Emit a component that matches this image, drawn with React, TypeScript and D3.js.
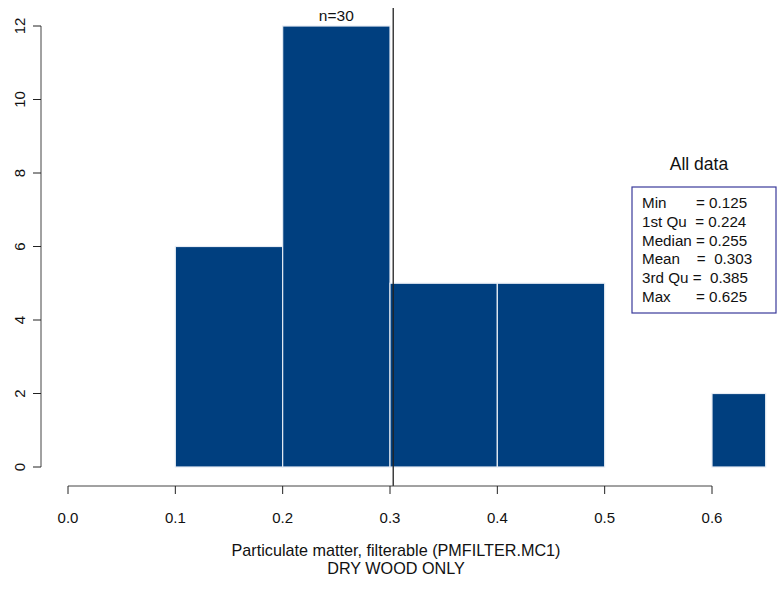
import React from "react";
import * as d3 from "d3";

const binStarts = [0.1, 0.2, 0.3, 0.4, 0.5, 0.6];
const binEnds = [0.2, 0.3, 0.4, 0.5, 0.6, 0.65];
const counts = [6, 12, 5, 5, 0, 2];
const xTicks = [0.0, 0.1, 0.2, 0.3, 0.4, 0.5, 0.6];
const yTicks = [0, 2, 4, 6, 8, 10, 12];
const statLines = [
  "Min       = 0.125",
  "1st Qu  = 0.224",
  "Median = 0.255",
  "Mean    =  0.303",
  "3rd Qu =  0.385",
  "Max      = 0.625",
];
const meanValue = 0.303;
const nLabel = "n=30";
const xTitle = "Particulate matter, filterable (PMFILTER.MC1)";
const subTitle = "DRY WOOD ONLY";
const boxTitle = "All data";

export default function App() {
  const W = 783, H = 593;
  const x = d3.scaleLinear().domain([0, 0.6]).range([68, 712]);
  const y = d3.scaleLinear().domain([0, 12]).range([467, 26]);
  const font = "'Liberation Sans', Arial, sans-serif";
  const barColor = "#003f7f";
  const statX = 642;
  return (
    <svg width={W} height={H} style={{ position: "absolute", left: 0, top: 0 }} fontFamily={font}>
      <rect width={W} height={H} fill="#fff" />
      {counts.map((c, i) => (
        <rect
          key={i}
          x={x(binStarts[i])}
          y={y(c)}
          width={x(binEnds[i]) - x(binStarts[i])}
          height={y(0) - y(c)}
          fill={barColor}
          stroke="#e6ecf4"
          strokeWidth={1.2}
        />
      ))}
      <line x1={x(meanValue)} x2={x(meanValue)} y1={8} y2={486} stroke="#222" strokeWidth={1.3} />
      <line x1={41} x2={41} y1={y(0)} y2={y(12)} stroke="#444" />
      {yTicks.map((t) => (
        <g key={t}>
          <line x1={33} x2={41} y1={y(t)} y2={y(t)} stroke="#222" />
          <text
            transform={`translate(25,${y(t)}) rotate(-90)`}
            textAnchor="middle"
            fontSize={15}
            fill="#111"
          >
            {t}
          </text>
        </g>
      ))}
      <line x1={x(0)} x2={x(0.6)} y1={486} y2={486} stroke="#444" />
      {xTicks.map((t) => (
        <g key={t}>
          <line x1={x(t)} x2={x(t)} y1={486} y2={494} stroke="#222" />
          <text x={x(t)} y={523} textAnchor="middle" fontSize={15} fill="#111">
            {t.toFixed(1)}
          </text>
        </g>
      ))}
      <text x={(x(0.2) + x(0.3)) / 2} y={21} textAnchor="middle" fontSize={15.5} fill="#111">
        {nLabel}
      </text>
      <text x={396} y={556} textAnchor="middle" fontSize={16.2} fill="#111">{xTitle}</text>
      <text x={396} y={574} textAnchor="middle" fontSize={16.2} fill="#111">{subTitle}</text>
      <text x={699} y={170} textAnchor="middle" fontSize={17.5} fill="#111">{boxTitle}</text>
      <rect x={632} y={187} width={144} height={126} fill="#fff" stroke="#3a3a9a" strokeWidth={1.2} />
      {statLines.map((l, i) => (
        <text key={i} x={statX} y={208 + i * 18.8} fontSize={15.2} fill="#111" style={{ whiteSpace: "pre" }}>
          {l}
        </text>
      ))}
    </svg>
  );
}
